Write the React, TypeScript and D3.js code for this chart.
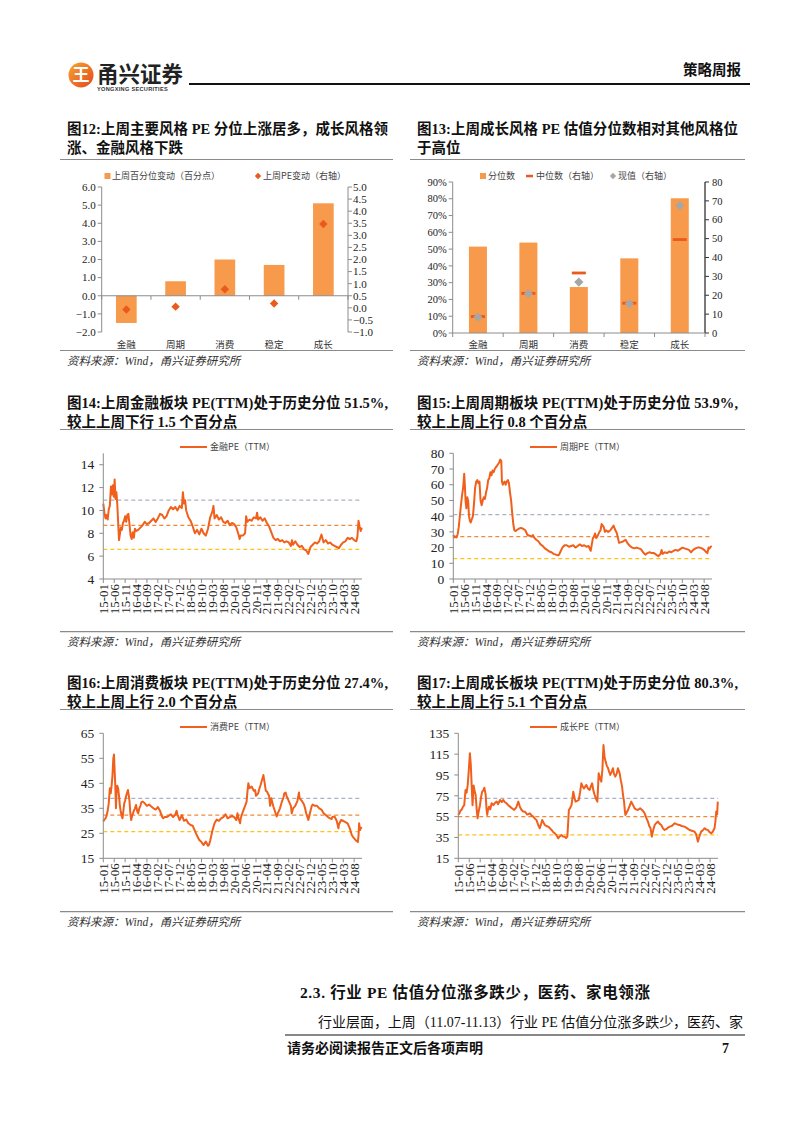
import React from "react";
import * as d3 from "d3";

const W = 802;
const H = 1133;

// ---------- DATA ----------
const styleCats = ["金融", "周期", "消费", "稳定", "成长"];
const pctChange = [-1.5, 0.8, 2.0, 1.7, 5.1];
const peChange = [-0.07, 0.05, 0.77, 0.18, 3.47];
const pctRank = [0.515, 0.539, 0.274, 0.445, 0.803];
const medianPE = [8.7, 21.0, 31.8, 15.8, 49.5];
const currentPE = [8.4, 20.8, 27.0, 15.5, 67.5];

const xTickLabels = [
  "15-01", "15-06", "15-11", "16-04", "16-09", "17-02", "17-07", "17-12",
  "18-05", "18-10", "19-03", "19-08", "20-01", "20-06", "20-11", "21-04",
  "21-09", "22-02", "22-07", "22-12", "23-05", "23-10", "24-03", "24-08",
];

// [month index since 2015-01, PE]
const finPE: [number, number][] = [
  [0, 10.6], [0.5, 9.8], [1, 9.3], [1.5, 9.6], [2, 9.2], [2.5, 10.1], [3, 10.4], [3.5, 12.1], [4, 11.4], [4.4, 12.2],
  [4.8, 11.2], [5.2, 12.7], [5.6, 11.0], [6, 11.6], [6.4, 10.6], [6.8, 9.0], [7.2, 7.4], [7.6, 7.9], [8, 8.5], [8.5, 8.3],
  [9, 8.9], [9.5, 9.1], [10, 9.5], [10.5, 9.0], [11, 9.6], [11.5, 9.7], [12, 8.8], [12.5, 7.8], [13, 7.5], [13.5, 8.1],
  [14, 7.6], [14.5, 8.4], [15, 8.2], [16, 8.3], [17, 8.5], [18, 8.7], [19, 9.0], [20, 8.8], [21, 8.9], [22, 9.1],
  [23, 9.3], [24, 9.0], [25, 9.3], [26, 9.7], [27, 9.6], [28, 9.3], [29, 9.5], [30, 10.0], [31, 10.3], [32, 10.1],
  [33, 10.3], [34, 10.0], [35, 10.4], [36, 10.2], [36.5, 11.6], [37, 10.6], [37.5, 10.9], [38, 10.0], [39, 9.4], [40, 9.1],
  [41, 8.6], [42, 8.0], [43, 8.3], [44, 7.9], [45, 8.4], [46, 8.0], [47, 7.8], [48, 8.4], [49, 9.4], [50, 9.9],
  [50.5, 10.4], [51, 9.3], [52, 9.6], [53, 9.2], [54, 9.4], [55, 9.0], [56, 8.9], [57, 9.1], [58, 8.7], [59, 8.9],
  [60, 8.8], [61, 8.5], [62, 7.9], [62.5, 7.5], [63, 7.8], [64, 7.8], [65, 8.0], [65.5, 9.5], [66, 9.0], [67, 9.2],
  [68, 9.1], [69, 9.4], [70, 9.3], [70.5, 9.8], [71, 9.2], [72, 9.4], [73, 9.1], [74, 9.3], [75, 8.9], [76, 8.6],
  [77, 8.1], [78, 7.6], [79, 7.4], [80, 7.5], [81, 7.3], [82, 7.4], [83, 7.2], [84, 7.3], [85, 7.2], [86, 6.9],
  [86.5, 7.4], [87, 7.0], [88, 7.3], [89, 7.0], [90, 6.8], [91, 6.9], [92, 6.6], [93, 6.5], [94, 6.2], [95, 6.8],
  [96, 7.0], [97, 7.2], [98, 7.1], [99, 7.3], [100, 7.9], [101, 7.2], [102, 7.4], [103, 7.1], [104, 7.2], [105, 7.0],
  [106, 6.9], [107, 6.8], [108, 6.7], [109, 7.0], [110, 7.2], [111, 7.3], [112, 7.6], [113, 7.5], [114, 7.6], [115, 7.4],
  [116, 7.3], [116.5, 7.7], [117, 9.1], [117.5, 8.6], [118, 8.2], [118.5, 8.5],
];
const cycPE: [number, number][] = [
  [0, 28], [0.5, 26.5], [1, 27], [1.5, 26.5], [2, 28.5], [2.5, 33], [3, 40], [3.5, 47], [4, 53], [4.5, 58],
  [5, 67], [5.3, 60], [5.6, 50], [6, 45], [6.4, 52], [6.8, 50], [7.2, 40], [7.6, 37], [8, 36], [8.5, 38],
  [9, 40], [9.5, 48], [10, 58], [10.5, 62], [11, 63], [11.5, 61], [12, 62], [12.5, 50], [13, 47], [13.5, 50],
  [14, 52], [14.5, 51], [15, 55], [15.5, 58], [16, 63], [16.5, 64], [17, 68], [17.5, 66], [18, 69], [18.5, 68],
  [19, 70], [19.5, 71], [20, 72], [20.5, 73], [21, 74], [21.5, 76], [22, 75], [22.3, 62], [22.7, 60], [23, 61],
  [23.5, 62], [24, 60], [24.5, 62], [25, 63], [25.5, 61], [26, 55], [26.5, 50], [27, 42], [27.5, 35], [28, 31],
  [28.5, 30.5], [29, 31], [30, 32], [31, 32.5], [32, 32], [33, 31], [34, 28], [35, 27.5], [36, 27], [36.5, 28],
  [37, 26.5], [38, 25], [39, 24], [40, 22], [41, 21], [42, 19.5], [43, 18.5], [44, 17.5], [45, 17], [46, 16],
  [47, 15.5], [48, 15], [48.5, 15.5], [49, 17], [50, 20], [51, 21.5], [52, 21.5], [53, 20.5], [54, 21], [55, 21.5],
  [56, 20], [57, 21], [58, 22], [59, 21], [60, 21.5], [61, 20.5], [62, 21], [63, 18], [63.5, 22], [64, 26],
  [64.5, 27], [65, 29], [65.5, 26], [66, 27], [67, 30], [67.5, 31], [68, 35], [68.5, 34], [69, 33], [69.5, 30],
  [70, 31], [71, 30], [72, 31], [73, 33], [73.5, 34], [74, 32], [75, 29], [75.5, 26], [76, 23], [77, 23.5],
  [78, 24], [79, 25], [80, 22.5], [81, 21], [82, 20], [83, 19.5], [84, 20], [85, 19.5], [86, 19], [87, 17],
  [88, 15.5], [89, 16.5], [90, 17], [91, 16.5], [92, 16.5], [93, 15.5], [94, 14.5], [95, 16], [95.5, 18.5], [96, 16],
  [97, 17], [98, 16.5], [99, 17.5], [100, 17], [101, 18], [102, 18.5], [103, 18], [104, 19], [105, 20], [106, 19.5],
  [107, 19], [108, 18.5], [109, 17], [110, 18.5], [111, 19.5], [112, 20], [113, 20], [114, 19.5], [115, 18.5], [116, 17],
  [116.5, 16.5], [117, 20], [117.5, 19.5], [118, 20.5], [118.5, 21],
];
const consPE: [number, number][] = [
  [0, 29.7], [0.5, 30.5], [1, 31], [1.5, 32], [2, 34], [2.5, 37], [3, 43], [3.4, 41], [3.8, 44], [4.2, 48],
  [4.6, 55], [4.9, 56.5], [5.2, 50], [5.5, 44], [5.8, 35], [6.1, 42], [6.4, 44], [6.8, 43], [7.2, 40], [7.6, 36],
  [8, 33.7], [8.4, 32], [8.8, 31], [9.2, 34], [9.6, 37], [10, 38], [10.5, 40], [11, 41.5], [11.3, 42.3], [11.7, 40],
  [12, 38], [12.4, 33], [12.8, 30.3], [13.2, 32], [13.6, 33], [14, 34], [14.5, 35], [15, 36.3], [15.5, 34], [16, 33],
  [16.5, 35], [17, 36], [17.5, 37.5], [18, 37.7], [19, 37], [20, 36], [21, 36.5], [22, 35.7], [23, 35], [24, 34.5],
  [25, 35.5], [26, 34], [27, 31.5], [27.5, 31], [28, 31.5], [29, 31.5], [30, 32], [31, 32.6], [32, 31.5], [33, 32.5],
  [33.6, 34], [34, 32.5], [35, 30.3], [36, 32.3], [37, 30], [38, 30.5], [39, 29], [40, 28.3], [41, 28], [41.5, 27],
  [42, 26], [43, 24], [44, 22.3], [45, 21.5], [46, 20.3], [47, 21.7], [48, 20], [48.5, 20.5], [49, 22], [50, 26],
  [51, 29], [52, 30.5], [53, 30], [54, 31], [55, 31.5], [56, 32.6], [57, 31], [58, 31.5], [59, 32], [60, 31.5],
  [61, 30.3], [61.5, 33], [62, 31], [62.7, 29], [63, 31], [64, 33.7], [65, 36], [65.7, 37.7], [66, 41], [66.5, 45],
  [67, 43], [68, 43.7], [69, 42], [69.6, 42.3], [70, 40], [71, 41], [71.5, 42.7], [72, 44], [73, 47], [73.4, 48.3],
  [74, 45], [74.5, 42], [75, 41.7], [76, 40], [76.5, 36], [77, 39], [78, 35.6], [79, 33], [79.5, 31.7], [80, 33],
  [81, 35], [82, 38], [82.6, 39.3], [83, 41], [83.6, 41.3], [84, 40], [85, 38], [86, 36], [86.4, 33], [87, 35],
  [88, 36], [89, 38], [89.7, 41.3], [90, 39], [91, 38], [92, 36.5], [92.5, 35], [93, 33], [94, 30.3], [95, 34],
  [95.6, 36], [96, 36.5], [97, 36], [98, 36], [99, 35], [100, 34.5], [101, 33], [102, 32.3], [103, 31.5], [104, 31],
  [104.7, 30.7], [105, 31.5], [106, 31.7], [107, 30], [107.8, 27], [108, 28.5], [109, 30.3], [110, 30], [111, 29.5], [112, 29],
  [113, 27], [113.9, 24.3], [114.5, 23.5], [115, 23], [116, 22], [116.7, 21.5], [117, 24], [117.3, 29], [117.7, 26.3], [118, 27],
  [118.5, 27.5],
];
const growPE: [number, number][] = [
  [0, 56.6], [0.5, 58], [1, 61], [1.5, 61.4], [2, 64], [2.7, 66], [3.3, 80.6], [3.8, 78], [4.3, 85.4], [4.8, 100],
  [5.3, 115.8], [5.7, 105], [6.1, 85.4], [6.5, 66], [7, 85], [7.4, 80], [7.9, 76], [8.4, 62], [8.8, 53.4], [9.3, 60],
  [9.9, 66], [10.4, 74], [10.9, 79], [11.4, 80], [11.9, 82.8], [12.5, 76], [12.9, 62], [13.2, 56.6], [13.6, 62], [14.1, 64.6],
  [14.6, 62], [15.2, 67.8], [16, 66], [16.7, 68], [17.5, 69.4], [18.2, 67], [19, 71], [19.8, 69], [20.5, 71], [21.2, 69],
  [22, 67.8], [22.8, 66], [23.6, 64.6], [24.5, 63], [25.5, 61.4], [26.5, 64], [27.4, 69.4], [28.2, 64], [28.9, 61.4], [29.6, 60],
  [30.4, 59.8], [31.5, 57], [32.7, 58.2], [33.5, 56], [34.2, 55], [35, 53], [35.7, 51.8], [36.5, 47], [37.2, 43.8], [37.8, 48],
  [38.3, 51.8], [39, 49], [39.5, 47], [40.2, 46], [41, 45.4], [41.8, 44], [42.6, 42.2], [43.4, 40], [44.1, 39], [44.9, 37],
  [45.6, 34.2], [46.3, 36], [47.1, 37.4], [47.8, 36], [48.6, 35.8], [49.2, 34.5], [49.8, 35.8], [50.2, 50], [50.5, 61.4], [51, 63],
  [51.7, 66], [52.1, 72], [52.5, 79], [53, 74], [53.5, 69.4], [54.2, 70], [55, 71], [55.6, 78], [56.2, 87], [56.8, 84],
  [57.4, 82], [58, 84], [58.5, 85.4], [59.2, 82], [60, 80.6], [60.5, 84], [61.1, 87], [61.7, 80], [62.3, 75.8], [62.9, 72],
  [63.5, 69.4], [63.8, 82], [64.1, 96.6], [64.7, 92], [65.3, 88.6], [65.8, 100], [66.3, 123.8], [66.8, 112], [67.3, 107.8], [67.8, 104],
  [68.4, 101.4], [68.9, 98], [69.4, 95], [70, 98], [70.6, 101.4], [71.1, 96], [71.7, 93.4], [72.3, 96], [72.9, 101.4], [73.3, 99],
  [73.7, 96.6], [74.2, 90], [74.8, 83.8], [75.2, 76], [75.7, 69.4], [76, 62], [76.3, 56.6], [76.9, 59], [77.5, 61.4], [78.2, 65],
  [79, 69.4], [79.8, 66], [80.5, 63], [81.2, 62], [82, 61.4], [83, 63], [83.9, 61.4], [84.5, 60], [85.1, 58.2], [85.8, 54],
  [86.6, 50.2], [87.2, 46], [87.8, 43.8], [88.4, 35.8], [89, 42], [89.7, 47], [90.5, 49], [91.2, 50.2], [92, 48], [92.7, 47],
  [93.4, 44], [94.2, 42.2], [95, 43], [95.8, 44.5], [96.5, 45.4], [97.5, 46], [98.8, 48.6], [100, 47.5], [101, 47], [102, 46],
  [103.3, 45.4], [104.4, 44], [105.6, 42.2], [106.7, 41.5], [107.9, 40.6], [108.6, 38], [109.4, 31], [110.1, 36], [110.9, 40.6], [111.7, 42],
  [112.5, 43.8], [113.3, 42.5], [114, 42], [114.8, 40], [115.5, 39], [116.2, 40.5], [117, 43.8], [117.4, 50], [117.8, 60], [118.2, 57],
  [118.5, 69.4],
];

// reference lines (upper / middle / lower)
const finBands = [10.9, 8.7, 6.6];
const cycBands = [41, 27, 13];
const consBands = [39, 32.3, 25.7];
const growBands = [72.6, 55, 37.4];

// ---------- STYLE ----------
const SERIF = "'Liberation Serif', 'Times New Roman', 'Noto Sans CJK SC', serif";
const CJK = "'Noto Sans CJK SC', 'Noto Sans', sans-serif";
const BAR = "#F79A4C";
const RED = "#EA5A1C";
const LINE = "#F0601C";
const AXIS = "#8C8C8C";
const BAND_COLORS = ["#A9B2C4", "#F08A3A", "#FFC21A"];

const MONTH_MAX = 118.6;

function Title({ x, y, lines, width }: { x: number; y: number; lines: string[]; width: number }) {
  return (
    <g fontFamily={SERIF} fontWeight={700} fontSize={14.5} fill="#111">
      <text x={x} y={y} dy="0.35em" textLength={width} lengthAdjust="spacing">{lines[0]}</text>
      <text x={x} y={y + 19} dy="0.35em">{lines[1]}</text>
    </g>
  );
}

function Frame({ x0, x1, yTitleLine, ySourceLine }: { x0: number; x1: number; yTitleLine: number; ySourceLine: number }) {
  return (
    <g>
      <line x1={x0} x2={x1} y1={yTitleLine} y2={yTitleLine} stroke="#8a8a8a" strokeWidth={1.2} />
      <line x1={x0} x2={x1} y1={ySourceLine} y2={ySourceLine} stroke="#8a8a8a" strokeWidth={1.2} />
      <text x={x0 + 7} y={ySourceLine + 10} dy="0.35em" fontFamily={SERIF} fontStyle="italic" fontSize={11.5} fill="#333">
        资料来源：Wind，甬兴证券研究所
      </text>
    </g>
  );
}

function LineChart(props: {
  left: number; right: number; top: number; yMaxPos: number; bottom: number;
  domain: [number, number]; ticks: number[]; data: [number, number][]; bands: number[];
  legend: string; legendX: number; legendY: number;
}) {
  const { left, right, top, yMaxPos, bottom, domain, ticks, data, bands, legend, legendX, legendY } = props;
  const x = d3.scaleLinear().domain([0, MONTH_MAX]).range([left, right]);
  const y = d3.scaleLinear().domain(domain).range([bottom, yMaxPos]);
  const line = d3.line<[number, number]>().x((d) => x(d[0])).y((d) => y(d[1]));
  return (
    <g>
      <line x1={legendX} x2={legendX + 27} y1={legendY} y2={legendY} stroke={LINE} strokeWidth={2} />
      <text x={legendX + 30} y={legendY} dy="0.35em" fontFamily={CJK} fontSize={9} fill="#444">{legend}</text>
      {bands.map((b, i) => (
        <line key={i} x1={left} x2={right} y1={y(b)} y2={y(b)} stroke={BAND_COLORS[i]} strokeWidth={1.3} strokeDasharray="4 3" />
      ))}
      <path d={line(data) || ""} fill="none" stroke={LINE} strokeWidth={2} strokeLinejoin="round" />
      <line x1={left} x2={left} y1={top} y2={bottom} stroke={AXIS} strokeWidth={1} />
      {ticks.map((t) => (
        <g key={t}>
          <line x1={left - 4} x2={left} y1={y(t)} y2={y(t)} stroke={AXIS} />
          <text x={left - 9} y={y(t)} dy="0.35em" textAnchor="end" fontFamily={SERIF} fontSize={13.5} fill="#222">{t}</text>
        </g>
      ))}
      <line x1={left} x2={right} y1={bottom} y2={bottom} stroke={AXIS} strokeWidth={1} />
      {xTickLabels.map((lab, i) => {
        const px = x(i * 5);
        return (
          <g key={lab}>
            <line x1={px} x2={px} y1={bottom} y2={bottom + 4} stroke={AXIS} />
            <text transform={`translate(${px},${bottom + 5}) rotate(-90)`} dy="0.35em" textAnchor="end"
              fontFamily={SERIF} fontSize={13} fill="#222">{lab}</text>
          </g>
        );
      })}
    </g>
  );
}

function DiamondPath({ cx, cy, r, fill }: { cx: number; cy: number; r: number; fill: string }) {
  const sym = d3.symbol().type(d3.symbolSquare).size(2 * r * r)();
  return <path d={sym || ""} transform={`translate(${cx},${cy}) rotate(45)`} fill={fill} />;
}

function Chart12() {
  const left = 101.7, right = 348, top = 187, bottom = 332;
  const x = d3.scaleBand<string>().domain(styleCats).range([left, right]).paddingInner(0.58).paddingOuter(0.29);
  const yL = d3.scaleLinear().domain([-2, 6]).range([bottom, top]);
  const yR = d3.scaleLinear().domain([-1, 5]).range([bottom, top]);
  const step = x.step();
  const lTicks = d3.range(-2, 6.01, 1);
  const rTicks = d3.range(-1, 5.01, 0.5);
  return (
    <g>
      <rect x={104.5} y={173} width={6} height={6} fill={BAR} />
      <text x={112} y={176} dy="0.35em" fontFamily={CJK} fontSize={9} fill="#444">上周百分位变动（百分点）</text>
      <DiamondPath cx={258} cy={176} r={3.2} fill={RED} />
      <text x={263} y={176} dy="0.35em" fontFamily={CJK} fontSize={9} fill="#444">上周PE变动（右轴）</text>
      {styleCats.map((c, i) => (
        <rect key={c} x={x(c)} width={x.bandwidth()} y={Math.min(yL(pctChange[i]), yL(0))}
          height={Math.abs(yL(pctChange[i]) - yL(0))} fill={BAR} />
      ))}
      <line x1={left} x2={left} y1={top} y2={bottom} stroke={AXIS} />
      {lTicks.map((t) => (
        <g key={t}>
          <line x1={left - 4} x2={left} y1={yL(t)} y2={yL(t)} stroke={AXIS} />
          <text x={left - 6} y={yL(t)} dy="0.35em" textAnchor="end" fontFamily={SERIF} fontSize={11} fill="#222">{d3.format(".1f")(t)}</text>
        </g>
      ))}
      <line x1={right} x2={right} y1={top} y2={bottom} stroke={AXIS} />
      {rTicks.map((t) => (
        <g key={t}>
          <line x1={right} x2={right + 4} y1={yR(t)} y2={yR(t)} stroke={AXIS} />
          <text x={right + 5} y={yR(t)} dy="0.35em" fontFamily={SERIF} fontSize={11} fill="#222">{d3.format(".1f")(t)}</text>
        </g>
      ))}
      <line x1={left} x2={right} y1={yL(0)} y2={yL(0)} stroke={AXIS} />
      {d3.range(0, 6).map((i) => (
        <line key={i} x1={left + i * step} x2={left + i * step} y1={yL(0)} y2={yL(0) + 4} stroke={AXIS} />
      ))}
      {styleCats.map((c, i) => (
        <DiamondPath key={c} cx={(x(c) || 0) + x.bandwidth() / 2} cy={yR(peChange[i])} r={4.2} fill={RED} />
      ))}
      {styleCats.map((c) => (
        <text key={c} x={(x(c) || 0) + x.bandwidth() / 2} y={345} dy="0.35em" textAnchor="middle" fontFamily={CJK} fontSize={9.5} fill="#333">{c}</text>
      ))}
    </g>
  );
}

function Chart13() {
  const left = 452.7, right = 705, top = 182, bottom = 333;
  const x = d3.scaleBand<string>().domain(styleCats).range([left, right]).paddingInner(0.643).paddingOuter(0.3215);
  const yL = d3.scaleLinear().domain([0, 0.9]).range([bottom, top]);
  const yR = d3.scaleLinear().domain([0, 80]).range([bottom, top]);
  const lTicks = d3.range(0, 0.901, 0.1);
  const rTicks = d3.range(0, 81, 10);
  const step = x.step();
  return (
    <g>
      <rect x={480} y={173} width={6} height={6} fill={BAR} />
      <text x={488} y={176} dy="0.35em" fontFamily={CJK} fontSize={9} fill="#444">分位数</text>
      <rect x={526} y={174.8} width={7} height={2.5} fill={RED} />
      <text x={536} y={176} dy="0.35em" fontFamily={CJK} fontSize={9} fill="#444">中位数（右轴）</text>
      <DiamondPath cx={613} cy={176} r={3.2} fill="#A6A6A6" />
      <text x={618} y={176} dy="0.35em" fontFamily={CJK} fontSize={9} fill="#444">现值（右轴）</text>
      {styleCats.map((c, i) => (
        <rect key={c} x={x(c)} width={x.bandwidth()} y={yL(pctRank[i])} height={yL(0) - yL(pctRank[i])} fill={BAR} />
      ))}
      <line x1={left} x2={left} y1={top} y2={bottom} stroke={AXIS} />
      {lTicks.map((t) => (
        <g key={t}>
          <line x1={left - 4} x2={left} y1={yL(t)} y2={yL(t)} stroke={AXIS} />
          <text x={left - 6} y={yL(t)} dy="0.35em" textAnchor="end" fontFamily={SERIF} fontSize={10.5} fill="#222">{d3.format(".0%")(t)}</text>
        </g>
      ))}
      <line x1={right} x2={right} y1={top} y2={bottom} stroke="#333" strokeWidth={1.3} />
      {rTicks.map((t) => (
        <g key={t}>
          <line x1={right} x2={right + 4} y1={yR(t)} y2={yR(t)} stroke="#333" />
          <text x={right + 7} y={yR(t)} dy="0.35em" fontFamily={SERIF} fontSize={10.5} fill="#222">{t}</text>
        </g>
      ))}
      <line x1={left} x2={right} y1={bottom} y2={bottom} stroke={AXIS} />
      {d3.range(0, 6).map((i) => (
        <line key={i} x1={left + i * step} x2={left + i * step} y1={bottom} y2={bottom + 4} stroke={AXIS} />
      ))}
      {styleCats.map((c, i) => (
        <rect key={c} x={(x(c) || 0) + x.bandwidth() / 2 - 7} y={yR(medianPE[i]) - 1.4} width={14} height={2.8} fill={RED} />
      ))}
      {styleCats.map((c, i) => (
        <DiamondPath key={c} cx={(x(c) || 0) + x.bandwidth() / 2} cy={yR(currentPE[i])} r={4.6} fill="#A6A6A6" />
      ))}
      {styleCats.map((c) => (
        <text key={c} x={(x(c) || 0) + x.bandwidth() / 2} y={345} dy="0.35em" textAnchor="middle" fontFamily={CJK} fontSize={9.5} fill="#333">{c}</text>
      ))}
    </g>
  );
}

function Header() {
  return (
    <g>
      <defs>
        <linearGradient id="lg" x1="0" y1="0" x2="1" y2="1">
          <stop offset="0%" stopColor="#F7A531" />
          <stop offset="100%" stopColor="#E4471D" />
        </linearGradient>
      </defs>
      <circle cx={81} cy={75} r={12.5} fill="url(#lg)" />
      <text x={81} y={75} dy="0.36em" textAnchor="middle" fontFamily={CJK} fontWeight={700} fontSize={17} fill="#fff">王</text>
      <text x={97} y={74} dy="0.35em" fontFamily={CJK} fontWeight={700} fontSize={21.5} fill="#222">甬兴证券</text>
      <text x={97} y={89} dy="0.35em" fontFamily="'Liberation Sans', Arial, sans-serif" fontWeight={700} fontSize={5.6} fill="#333" letterSpacing={0.3}>YONGXING SECURITIES</text>
      <line x1={189} x2={750} y1={84} y2={84} stroke="#111" strokeWidth={2} />
      <text x={741} y={70} dy="0.35em" textAnchor="end" fontFamily={CJK} fontWeight={700} fontSize={14.5} fill="#111">策略周报</text>
    </g>
  );
}

export default function App() {
  return (
    <svg width={W} height={H} viewBox={`0 0 ${W} ${H}`} style={{ position: "absolute", left: 0, top: 0, background: "#fff" }}>
      <rect width={W} height={H} fill="#fff" />
      <Header />

      <Title x={67} y={129} width={321} lines={["图12:上周主要风格 PE 分位上涨居多，成长风格领", "涨、金融风格下跌"]} />
      <Frame x0={60} x1={393} yTitleLine={159.5} ySourceLine={350.5} />
      <Chart12 />

      <Title x={417} y={129} width={321} lines={["图13:上周成长风格 PE 估值分位数相对其他风格位", "于高位"]} />
      <Frame x0={410} x1={745} yTitleLine={159.5} ySourceLine={350.5} />
      <Chart13 />

      <Title x={67} y={403} width={321} lines={["图14:上周金融板块 PE(TTM)处于历史分位 51.5%,", "较上上周下行 1.5 个百分点"]} />
      <Frame x0={60} x1={393} yTitleLine={429.5} ySourceLine={631.7} />
      <LineChart left={103.3} right={362} top={453.3} yMaxPos={453.3} bottom={579} domain={[4, 15]}
        ticks={[4, 6, 8, 10, 12, 14]} data={finPE} bands={finBands} legend="金融PE（TTM）" legendX={180} legendY={447} />

      <Title x={417} y={403} width={321} lines={["图15:上周周期板块 PE(TTM)处于历史分位 53.9%,", "较上上周上行 0.8 个百分点"]} />
      <Frame x0={410} x1={745} yTitleLine={429.5} ySourceLine={631.7} />
      <LineChart left={453.3} right={712} top={453.3} yMaxPos={453.3} bottom={579} domain={[0, 80]}
        ticks={d3.range(0, 81, 10)} data={cycPE} bands={cycBands} legend="周期PE（TTM）" legendX={530} legendY={447} />

      <Title x={67} y={683} width={321} lines={["图16:上周消费板块 PE(TTM)处于历史分位 27.4%,", "较上上周上行 2.0 个百分点"]} />
      <Frame x0={60} x1={393} yTitleLine={709.5} ySourceLine={911.7} />
      <LineChart left={103.3} right={362} top={733.3} yMaxPos={733.3} bottom={858.3} domain={[15, 65]}
        ticks={d3.range(15, 66, 10)} data={consPE} bands={consBands} legend="消费PE（TTM）" legendX={180} legendY={727} />

      <Title x={417} y={683} width={321} lines={["图17:上周成长板块 PE(TTM)处于历史分位 80.3%,", "较上上周上行 5.1 个百分点"]} />
      <Frame x0={410} x1={745} yTitleLine={709.5} ySourceLine={911.7} />
      <LineChart left={458.3} right={718} top={733.3} yMaxPos={733.3} bottom={858.3} domain={[15, 135]}
        ticks={d3.range(15, 136, 20)} data={growPE} bands={growBands} legend="成长PE（TTM）" legendX={530} legendY={727} />

      <text x={300} y={993} dy="0.35em" fontFamily={SERIF} fontWeight={700} fontSize={15.5} fill="#111" textLength={350} lengthAdjust="spacing">2.3. 行业 PE 估值分位涨多跌少，医药、家电领涨</text>
      <text x={318} y={1022} dy="0.35em" fontFamily={SERIF} fontSize={14} fill="#111" textLength={425} lengthAdjust="spacing">行业层面，上周（11.07-11.13）行业 PE 估值分位涨多跌少，医药、家</text>
      <line x1={285} x2={745} y1={1035} y2={1035} stroke="#111" strokeWidth={1.2} />
      <text x={287} y={1048} dy="0.35em" fontFamily={SERIF} fontWeight={700} fontSize={14} fill="#111">请务必阅读报告正文后各项声明</text>
      <text x={722} y={1048} dy="0.35em" fontFamily={SERIF} fontWeight={700} fontSize={14} fill="#111">7</text>
    </svg>
  );
}
